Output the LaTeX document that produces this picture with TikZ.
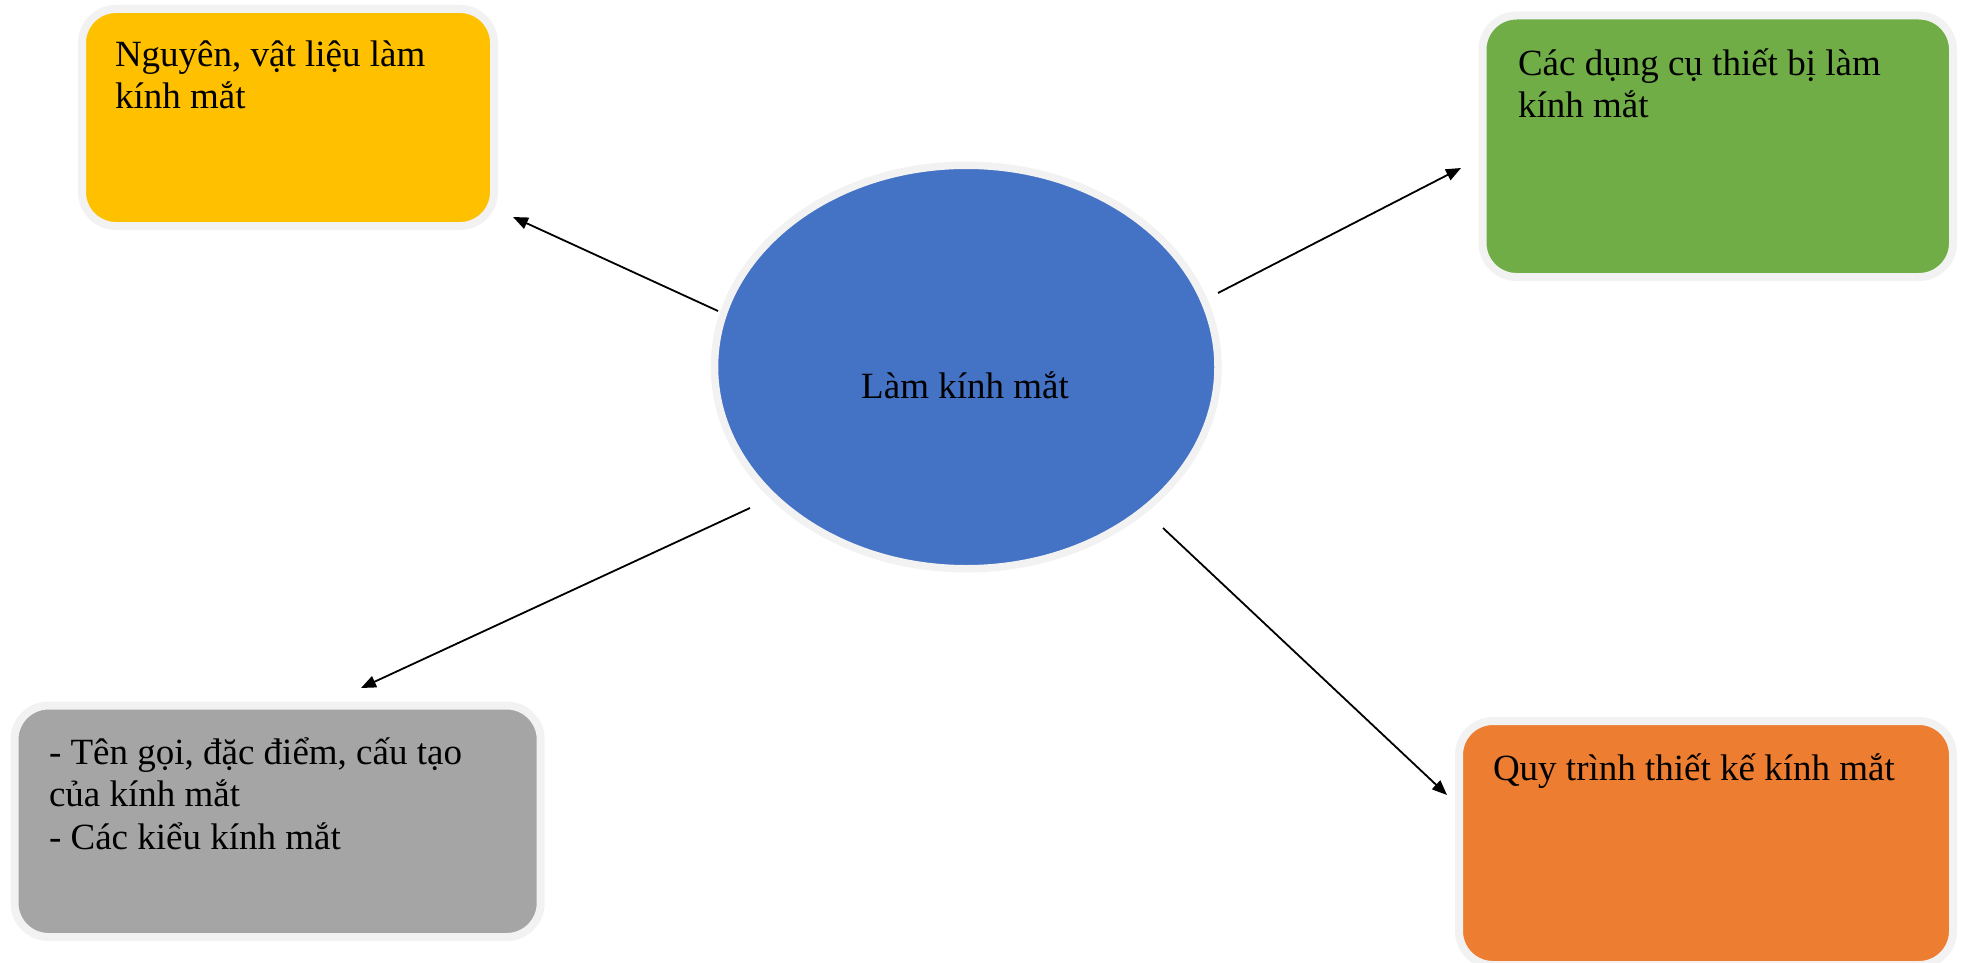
\documentclass[tikz,border=0pt]{standalone}
\usepackage{fontspec}
\setmainfont{Liberation Serif}
\usetikzlibrary{shapes.geometric,arrows.meta}
\definecolor{cYellow}{HTML}{FFC000}
\definecolor{cGreen}{HTML}{70AD47}
\definecolor{cGray}{HTML}{A5A5A5}
\definecolor{cOrange}{HTML}{ED7D31}
\definecolor{cBlue}{HTML}{4472C4}
\definecolor{cRim}{HTML}{F2F2F2}
\tikzset{
  topicbox/.style={rectangle, rounded corners=34pt, draw=cRim, line width=8pt, inner sep=0pt},
  hub/.style={ellipse, draw=cRim, line width=7.5pt, fill=cBlue, inner sep=0pt},
  lbl/.style={inner sep=0pt, outer sep=0pt, align=left, font=\fontsize{37}{42.3}\selectfont},
  link/.style={line width=1.8pt, -{Triangle[length=15pt,width=12pt]}}
}
\begin{document}
\begin{tikzpicture}[x=1pt,y=-1pt]
\useasboundingbox (0,0) rectangle (1962,963);
\begin{scope}
\clip (0,0) rectangle (1962,963);
\node[hub, minimum width=503.5pt, minimum height=403.5pt] (hubN) at (966.25,367) {};
\node[topicbox, fill=cYellow, minimum width=412pt, minimum height=217pt] (boxY) at (288,117.5) {};
\node[topicbox, fill=cGreen, minimum width=470.5pt, minimum height=261.5pt] (boxG) at (1717.75,146.25) {};
\node[topicbox, fill=cGray, minimum width=526.2pt, minimum height=231.5pt] (boxS) at (277.6,821.25) {};
\node[topicbox, fill=cOrange, minimum width=494pt, minimum height=244pt] (boxO) at (1706,843) {};
\end{scope}
\node[lbl, anchor=base] (tHub) at (965,398) {Làm kính mắt};
\node[lbl, anchor=base west] (tY) at (115,109) {Nguyên, vật liệu làm\\kính mắt};
\node[lbl, anchor=base west] (tG) at (1518,118) {Các dụng cụ thiết bị làm\\kính mắt};
\node[lbl, anchor=base west] (tS) at (49,849) {- Tên gọi, đặc điểm, cấu tạo\\của kính mắt\\- Các kiểu kính mắt};
\node[lbl, anchor=base west] (tO) at (1493,780) {Quy trình thiết kế kính mắt};
\coordinate (a1s) at (718,311);
\coordinate (a1e) at (513,217);
\coordinate (a2s) at (1218,293);
\coordinate (a2e) at (1461,168);
\coordinate (a3s) at (750,508);
\coordinate (a3e) at (361,688);
\coordinate (a4s) at (1163,528);
\coordinate (a4e) at (1447,795);
\draw[link] (a1s) -- (a1e);
\draw[link] (a2s) -- (a2e);
\draw[link] (a3s) -- (a3e);
\draw[link] (a4s) -- (a4e);
\end{tikzpicture}
\end{document}
